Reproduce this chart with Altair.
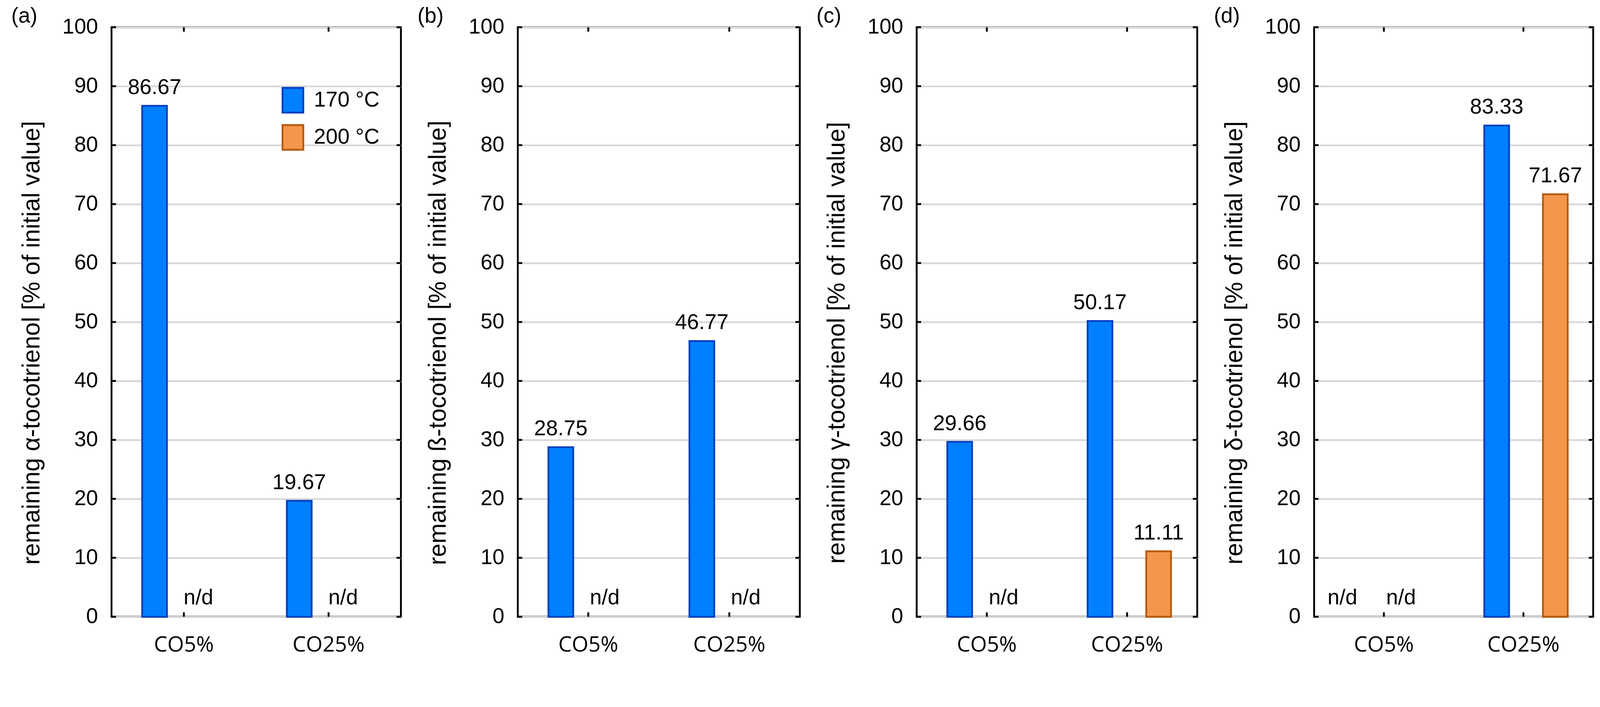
import altair as alt
import pandas as pd

categories = ["CO5%", "CO25%"]
temps = ["170 °C", "200 °C"]
panel_letters = ["(a)", "(b)", "(c)", "(d)"]
y_titles = [
    "remaining α-tocotrienol [% of initial value]",
    "remaining ß-tocotrienol [% of initial value]",
    "remaining γ-tocotrienol [% of initial value]",
    "remaining δ-tocotrienol [% of initial value]",
]
# None = n/d (not detected)
values_170 = [[86.67, 19.67], [28.75, 46.77], [29.66, 50.17], [None, 83.33]]
values_200 = [[None, None], [None, None], [None, 11.11], [None, 71.67]]
y_ticks = [0, 10, 20, 30, 40, 50, 60, 70, 80, 90, 100]

fill_colors = ["#0080FF", "#F5974A"]
stroke_colors = ["#0040C0", "#B85A0E"]

widths = [785, 765, 761, 757]
H = 1600
FONT = "Liberation Sans"
TL = 12  # inward tick length


def panel(i):
    W = widths[i]
    rows = []
    for j, c in enumerate(categories):
        for t, vals in zip(temps, (values_170[i], values_200[i])):
            v = vals[j]
            rows.append({"cat": c, "temp": t, "value": v,
                         "label": "n/d" if v is None else f"{v:.2f}"})
    df = pd.DataFrame(rows)
    base = alt.Chart(df)

    xenc = alt.X("cat:N", sort=categories,
                 scale=alt.Scale(domain=categories, paddingInner=0, paddingOuter=0),
                 title=None)
    xoff = alt.XOffset("temp:N", sort=temps,
                       scale=alt.Scale(domain=temps, paddingInner=0.578, paddingOuter=0.523))
    yscale = alt.Scale(domain=[0, 100], nice=False)
    yenc = alt.Y("value:Q", scale=yscale, title=y_titles[i],
                 axis=alt.Axis(values=y_ticks))

    if i == 0:
        leg = alt.Legend(orient="none", legendX=456, legendY=162, title=None,
                         symbolType="M-0.84,-1H0.84V1H-0.84Z", symbolSize=4489,
                         symbolStrokeWidth=5, labelFontSize=58, labelFont=FONT,
                         labelColor="black", labelLimit=400, rowPadding=13,
                         labelOffset=21, padding=0)
    else:
        leg = None
    fill = alt.Fill("temp:N", scale=alt.Scale(domain=temps, range=fill_colors), legend=leg)
    stroke = alt.Stroke("temp:N", scale=alt.Scale(domain=temps, range=stroke_colors), legend=leg)

    bars = base.transform_filter("isValid(datum.value)").mark_bar(strokeWidth=5).encode(
        x=xenc, xOffset=xoff, y=yenc, fill=fill, stroke=stroke)
    labels = base.transform_filter("isValid(datum.value)").mark_text(
        dy=-20, baseline="bottom", fontSize=58, font=FONT, color="black").encode(
        x=xenc, xOffset=xoff, y=yenc, text="label:N")
    nd = base.transform_filter("!isValid(datum.value)").mark_text(
        dx=-40, dy=-22, baseline="bottom", fontSize=58, font=FONT, color="black").encode(
        x=xenc, xOffset=xoff, y=alt.datum(0), text="label:N")

    ydf = alt.Chart(pd.DataFrame({"value": y_ticks}))
    lt = ydf.mark_rule(color="black", strokeWidth=5).encode(
        y=yenc, x=alt.value(0), x2=alt.value(TL))
    rt = ydf.mark_rule(color="black", strokeWidth=5).encode(
        y=yenc, x=alt.value(W), x2=alt.value(W - TL))
    xdf = alt.Chart(pd.DataFrame({"cat": categories}))
    bt = xdf.mark_rule(color="black", strokeWidth=5).encode(
        x=xenc, y=alt.value(H), y2=alt.value(H - TL))
    tt = xdf.mark_rule(color="black", strokeWidth=5).encode(
        x=xenc, y=alt.value(0), y2=alt.value(TL))

    letter = alt.Chart(pd.DataFrame({"letter": [panel_letters[i]]})).mark_text(
        align="left", baseline="alphabetic", fontSize=58, font=FONT, color="black").encode(
        x=alt.value(-272), y=alt.value(-12), text="letter:N")

    return alt.layer(bars, labels, nd, lt, rt, bt, tt, letter).properties(
        width=W, height=H)


chart = alt.hconcat(*[panel(i) for i in range(4)], spacing=37).resolve_scale(
    fill="independent", stroke="independent").resolve_legend(
    fill="independent", stroke="independent").properties(
    padding={"left": 19, "top": -47, "right": 5, "bottom": 5},
    background="white",
).configure_view(stroke="black", strokeWidth=5).configure_axisY(
    labelFont=FONT, labelFontSize=58, labelColor="black", labelPadding=37,
    ticks=False, domain=False, grid=True, gridColor="#D9D9D9", gridWidth=5,
    titleFont=FONT, titleFontSize=66, titleFontWeight="normal", titleColor="black",
    titlePadding=48, titleY=856,
).configure_axisX(
    labelFont="Open Sans", labelFontSize=58, labelColor="black", labelPadding=48,
    labelAngle=0, labelLimit=600, ticks=False, domain=False, grid=False,
)

chart.save("out.html", embed_options={"renderer": "svg", "actions": False})
